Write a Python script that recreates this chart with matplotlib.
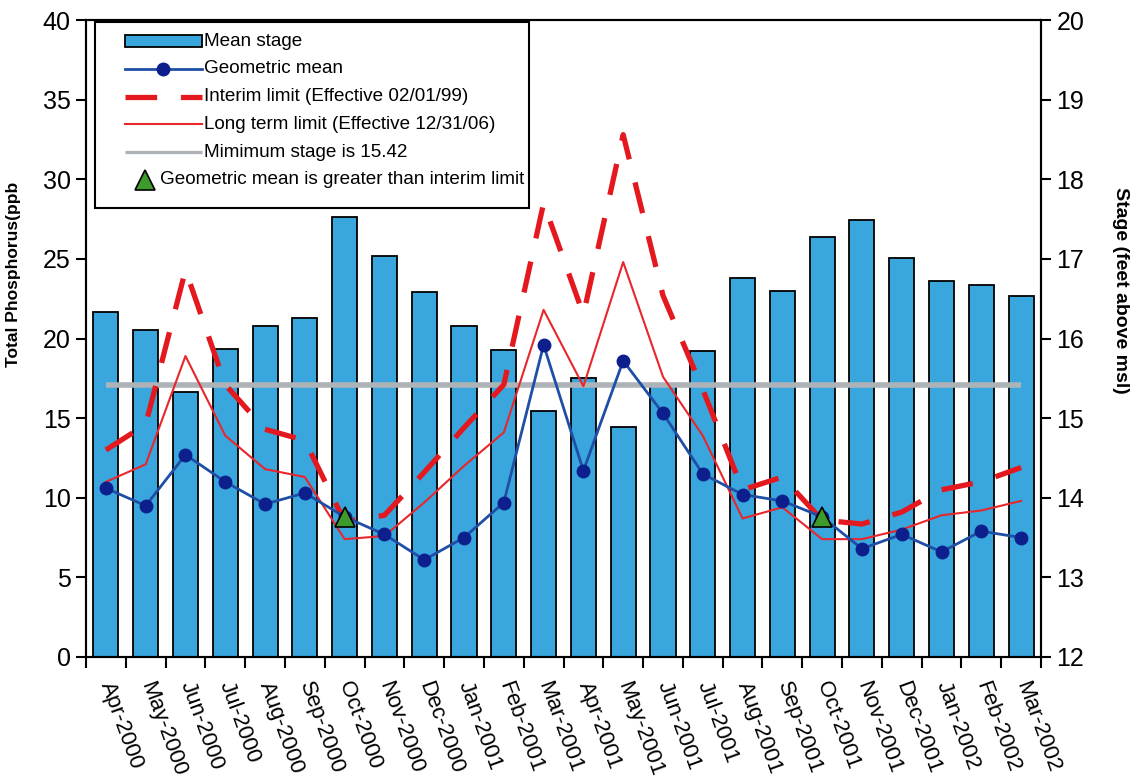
import numpy as np
import matplotlib
matplotlib.use("Agg")
import matplotlib.pyplot as plt
from matplotlib.patches import Rectangle
from matplotlib.lines import Line2D
from matplotlib.offsetbox import DrawingArea, TextArea, HPacker, VPacker, AnchoredOffsetbox

plt.rcParams['font.family'] = ['Liberation Sans', 'DejaVu Sans']

months = ["Apr-2000", "May-2000", "Jun-2000", "Jul-2000", "Aug-2000", "Sep-2000",
          "Oct-2000", "Nov-2000", "Dec-2000", "Jan-2001", "Feb-2001", "Mar-2001",
          "Apr-2001", "May-2001", "Jun-2001", "Jul-2001", "Aug-2001", "Sep-2001",
          "Oct-2001", "Nov-2001", "Dec-2001", "Jan-2002", "Feb-2002", "Mar-2002"]

# Monthly mean stage (feet above msl)
mean_stage = [16.33, 16.11, 15.33, 15.87, 16.16, 16.26, 17.52, 17.04, 16.58, 16.16,
              15.85, 15.09, 15.50, 14.89, 15.42, 15.84, 16.76, 16.60, 17.27, 17.49,
              17.01, 16.72, 16.67, 16.53]

# Total phosphorus (ppb)
geo_mean = [10.6, 9.5, 12.7, 11.0, 9.6, 10.3, 8.8, 7.7, 6.1, 7.5, 9.7, 19.6,
            11.7, 18.6, 15.3, 11.5, 10.2, 9.8, 8.8, 6.8, 7.7, 6.6, 7.9, 7.5]
interim_limit = [13.0, 14.6, 24.3, 17.1, 14.3, 13.6, 8.5, 8.9, 11.6, 14.4, 17.1, 28.5,
                 21.5, 32.8, 22.7, 16.8, 10.5, 11.3, 8.6, 8.35, 9.1, 10.5, 11.0, 11.9]
long_term_limit = [11.0, 12.1, 18.9, 13.9, 11.8, 11.3, 7.4, 7.6, 9.7, 12.0, 14.1, 21.8,
                   17.0, 24.8, 17.6, 13.9, 8.7, 9.4, 7.4, 7.4, 8.0, 8.9, 9.2, 9.8]
minimum_stage = 15.42

legend_labels = ['Mean stage', 'Geometric mean', 'Interim limit (Effective 02/01/99)',
                 'Long term limit (Effective 12/31/06)', 'Mimimum stage is 15.42',
                 'Geometric mean is greater than interim limit']

x = np.arange(len(months))
geo = np.array(geo_mean)
interim = np.array(interim_limit)
exceed = geo > interim

# styles
bar_style = dict(facecolor='#39a7dd', edgecolor='black', linewidth=1.3)
gm_style = dict(color='#1f4ea6', lw=2)
gm_marker = dict(marker='o', ms=9, mfc='#0c1f8c', mec='#0c1f8c')
int_style = dict(color='#e3191f', lw=3.8, linestyle=(0, (6, 4.5)))
lt_style = dict(color='#e8262c', lw=1.5)
min_style = dict(color='#aeb3b8', lw=4, solid_capstyle='butt')
tri_style = dict(marker='^', ms=15, mfc='#3d9b2c', mec='black', mew=1.2)

W, H = 1141, 780
fig = plt.figure(figsize=(W / 100, H / 100), dpi=100)
ax_stage = fig.add_axes([86 / W, 1 - 657 / H, (1041 - 86) / W, (657 - 20) / H])
ax_tp = ax_stage.twinx()

# Stage bars on the right-hand axis
ax_stage.bar(x, np.array(mean_stage) - 12, bottom=12, width=0.63, zorder=2, **bar_style)
ax_stage.plot([x[0], x[-1]], [minimum_stage, minimum_stage], zorder=3, **min_style)
ax_stage.set_ylim(12, 20)
ax_stage.set_xlim(-0.5, len(months) - 0.5)
ax_stage.yaxis.tick_right()
ax_stage.yaxis.set_label_position('right')
ax_stage.set_yticks(np.arange(12, 21, 1))
ax_stage.set_ylabel('Stage (feet above msl)', fontsize=14, fontweight='bold', rotation=-90)
ax_stage.yaxis.set_label_coords(1.092, 0.575)

# Phosphorus lines on the left-hand axis
ax_tp.plot(x, geo, zorder=5, **gm_style, **gm_marker)
ax_tp.plot(x, interim, zorder=4, **int_style)
ax_tp.plot(x, long_term_limit, zorder=4, **lt_style)
ax_tp.plot(x[exceed], geo[exceed], linestyle='none', zorder=6, **tri_style)
ax_tp.set_ylim(0, 40)
ax_tp.yaxis.tick_left()
ax_tp.yaxis.set_label_position('left')
ax_tp.set_yticks(np.arange(0, 41, 5))
ax_tp.set_ylabel('Total Phosphorus(ppb', fontsize=12.5, fontweight='bold')
ax_tp.yaxis.set_label_coords(-0.068, 0.60)

# Month labels at bar centres, tick marks at month boundaries
ax_stage.set_xticks(x)
ax_stage.set_xticklabels(months, rotation=-70, ha='left', va='center',
                         rotation_mode='anchor', fontsize=16)
ax_stage.tick_params(axis='x', which='major', length=0, pad=18)
ax_stage.set_xticks(np.arange(-0.5, len(months), 1), minor=True)
ax_stage.tick_params(axis='x', which='minor', length=8, width=1.5, direction='out')

for a in (ax_stage, ax_tp):
    a.tick_params(axis='y', length=7, width=1.5, labelsize=18, direction='out', pad=4)
    for s in a.spines.values():
        s.set_linewidth(1.5)

# Legend box built from offset boxes (sizes in points)
PX = 72 / 100
ROW_H = 20
HANDLE_W = 107 * PX
HANDLE_X0 = 30 * PX
mid = ROW_H / 2


def handle_area(kind):
    if kind == 'tri':
        da = DrawingArea(63 * PX, ROW_H, 0, 0)
        da.add_artist(Line2D([50 * PX], [mid], linestyle='none', **tri_style))
        return da
    da = DrawingArea(HANDLE_W, ROW_H, 0, 0)
    xs = [HANDLE_X0, HANDLE_W]
    if kind == 'bar':
        da.add_artist(Rectangle((HANDLE_X0, mid - 4.3), HANDLE_W - HANDLE_X0, 8.6, **bar_style))
    elif kind == 'gm':
        da.add_artist(Line2D(xs, [mid, mid], **gm_style))
        da.add_artist(Line2D([(xs[0] + xs[1]) / 2], [mid], linestyle='none', **gm_marker))
    elif kind == 'int':
        da.add_artist(Line2D(xs, [mid, mid], **int_style))
    elif kind == 'lt':
        da.add_artist(Line2D(xs, [mid, mid], **lt_style))
    elif kind == 'min':
        da.add_artist(Line2D(xs, [mid, mid], color=min_style['color'], lw=2.4,
                             solid_capstyle='butt'))
    return da


kinds = ['bar', 'gm', 'int', 'lt', 'min', 'tri']
rows = []
for kind, lab in zip(kinds, legend_labels):
    ta = TextArea(lab, textprops=dict(fontsize=13.6))
    rows.append(HPacker(children=[handle_area(kind), ta, DrawingArea(1.5 * PX, 1)],
                        align='center', pad=0, sep=2.5 * PX))
vbox = VPacker(children=[DrawingArea(1, 3.7)] + rows + [DrawingArea(1, 10.3)],
               align='left', pad=0, sep=0)
legend_box = AnchoredOffsetbox(loc='upper left', child=vbox, pad=0, borderpad=0,
                               frameon=True, bbox_to_anchor=(9 / 955, 1 - 2 / 637),
                               bbox_transform=ax_tp.transAxes)
legend_box.patch.set_edgecolor('black')
legend_box.patch.set_linewidth(1.5)
legend_box.patch.set_facecolor('white')
legend_box.set_zorder(10)
ax_tp.add_artist(legend_box)

fig.savefig('out.png', dpi=100, facecolor='white')
